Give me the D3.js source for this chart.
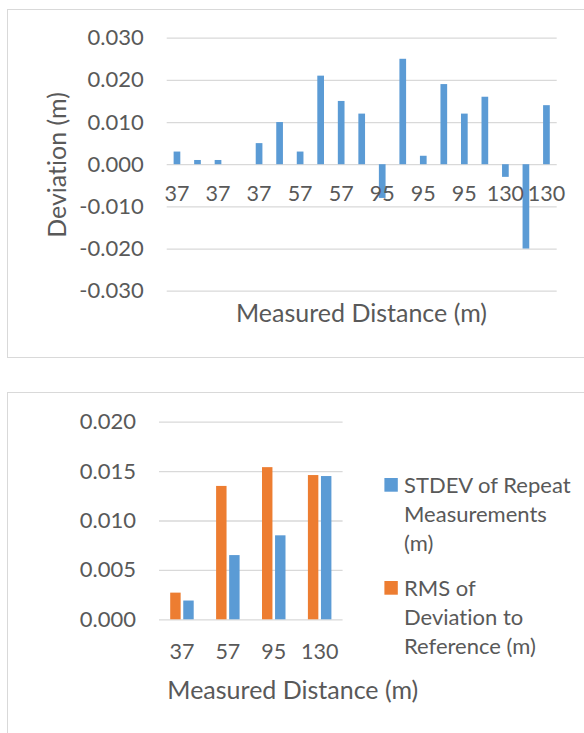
<!DOCTYPE html>
<html>
<head>
<meta charset="utf-8">
<script src="https://cdn.jsdelivr.net/npm/d3@7/dist/d3.min.js"></script>
<style>
  html, body { margin: 0; padding: 0; background: #fff; }
  svg { display: block; }
  text { font-family: Lato, "Open Sans", sans-serif; fill: #595959; font-variant-ligatures: none; font-feature-settings: "liga" 0; }
</style>
</head>
<body>
<svg id="chart" width="584" height="733"></svg>
<script>
// Individual deviations from reference, one per repeat measurement
const distanceLabels = ["37","37","37","37","37","37","57","57","57","57","95","95","95","95","95","95","130","130","130"];
const deviations = [0.003, 0.001, 0.001, 0.000, 0.005, 0.010, 0.003, 0.021, 0.015, 0.012,
                    -0.008, 0.025, 0.002, 0.019, 0.012, 0.016, -0.003, -0.020, 0.014];
const deviationTicks = [-0.03, -0.02, -0.01, 0, 0.01, 0.02, 0.03];

// Summary per distance
const summaryDistances = ["37", "57", "95", "130"];
const rmsDeviation = [0.0027, 0.0135, 0.0154, 0.0146];
const stdevRepeat = [0.0019, 0.0065, 0.0085, 0.0145];
const summaryTicks = [0, 0.005, 0.01, 0.015, 0.02];

const BLUE = "#5B9BD5", ORANGE = "#ED7D31", GRID = "#D9D9D9";
const svg = d3.select("#chart");
const TICK_FS = 22, CAT_FS = 21.5, TITLE_FS = 25, LEGEND_FS = 22;
const fmt = d => (d < 0 ? "-" : "") + d3.format(".3f")(Math.abs(d));

// ---------- Chart 1: deviations ----------
svg.append("rect").attr("x", 7.5).attr("y", 9.5).attr("width", 590).attr("height", 348)
  .attr("fill", "#fff").attr("stroke", GRID).attr("stroke-width", 1);

const x1 = d3.scaleBand().domain(d3.range(deviations.length)).range([166.7, 556.7])
  .paddingInner(0.674).paddingOuter(0.337);
const y1 = d3.scaleLinear().domain([-0.03, 0.03]).range([290.7, 37.7]);

const g1 = svg.append("g");
const yAxis1 = g1.append("g").attr("transform", "translate(166.7,0)")
  .call(d3.axisLeft(y1).tickValues(deviationTicks).tickFormat(fmt).tickSize(-390).tickPadding(23));
yAxis1.select(".domain").remove();
yAxis1.selectAll("line").attr("stroke", GRID).attr("stroke-width", 1.3);
yAxis1.selectAll("text").attr("font-size", TICK_FS).attr("fill", "#595959");

g1.selectAll("rect.bar").data(deviations).join("rect").attr("class", "bar")
  .attr("x", (d, i) => x1(i))
  .attr("width", x1.bandwidth())
  .attr("y", d => y1(Math.max(0, d)))
  .attr("height", d => Math.abs(y1(d) - y1(0)))
  .attr("fill", BLUE);

const xAxis1 = g1.append("g").attr("transform", `translate(0,${y1(0)})`)
  .call(d3.axisBottom(x1).tickValues(d3.range(0, deviations.length, 2))
    .tickFormat(i => distanceLabels[i]).tickSize(0).tickPadding(22));
xAxis1.select(".domain").remove();
xAxis1.selectAll("text").attr("font-size", CAT_FS).attr("fill", "#595959");

g1.append("text").attr("transform", "translate(66,165) rotate(-90)")
  .attr("text-anchor", "middle").attr("font-size", TITLE_FS).text("Deviation (m)");
g1.append("text").attr("x", 361.5).attr("y", 322)
  .attr("text-anchor", "middle").attr("font-size", TITLE_FS).text("Measured Distance (m)");

// ---------- Chart 2: summary ----------
svg.append("rect").attr("x", 7.5).attr("y", 392.5).attr("width", 590).attr("height", 360)
  .attr("fill", "#fff").attr("stroke", GRID).attr("stroke-width", 1);

const x2 = d3.scaleBand().domain(summaryDistances).range([159, 342.6])
  .paddingInner(0.488).paddingOuter(0.244);
const xs = d3.scaleBand().domain([0, 1]).range([0, x2.bandwidth()]).paddingInner(0.2);
const y2 = d3.scaleLinear().domain([0, 0.02]).range([619.3, 421.7]);

const g2 = svg.append("g");
const yAxis2 = g2.append("g").attr("transform", "translate(159,0)")
  .call(d3.axisLeft(y2).tickValues(summaryTicks).tickFormat(fmt).tickSize(-183.6).tickPadding(23));
yAxis2.select(".domain").remove();
yAxis2.selectAll("line").attr("stroke", GRID).attr("stroke-width", 1.3);
yAxis2.selectAll("text").attr("font-size", TICK_FS).attr("fill", "#595959");

// RMS (orange) drawn left of STDEV (blue) in each group
const seriesValues = [rmsDeviation, stdevRepeat];
const seriesColors = [ORANGE, BLUE];
seriesValues.forEach((vals, s) => {
  g2.append("g").selectAll("rect").data(vals).join("rect")
    .attr("x", (d, i) => x2(summaryDistances[i]) + xs(s))
    .attr("width", xs.bandwidth())
    .attr("y", d => y2(d))
    .attr("height", d => y2(0) - y2(d))
    .attr("fill", seriesColors[s]);
});

const xAxis2 = g2.append("g").attr("transform", `translate(0,${y2(0)})`)
  .call(d3.axisBottom(x2).tickSize(0).tickPadding(24));
xAxis2.select(".domain").remove();
xAxis2.selectAll("text").attr("font-size", CAT_FS).attr("fill", "#595959");

g2.append("text").attr("x", 292.8).attr("y", 699)
  .attr("text-anchor", "middle").attr("font-size", TITLE_FS).text("Measured Distance (m)");

// Legend: STDEV first, then RMS, each wrapped over three lines
const legendItems = [
  { color: BLUE, lines: ["STDEV of Repeat", "Measurements", "(m)"], y: 478 },
  { color: ORANGE, lines: ["RMS of", "Deviation to", "Reference (m)"], y: 581 }
];
const leg = g2.append("g");
legendItems.forEach(item => {
  leg.append("rect").attr("x", 384.4).attr("y", item.y).attr("width", 13.4).attr("height", 13.7).attr("fill", item.color);
  const t = leg.append("text").attr("x", 404).attr("y", item.y + 14.8).attr("font-size", LEGEND_FS);
  item.lines.forEach((ln, k) => t.append("tspan").attr("x", 404).attr("dy", k === 0 ? 0 : 29).text(ln));
});
</script>
</body>
</html>
